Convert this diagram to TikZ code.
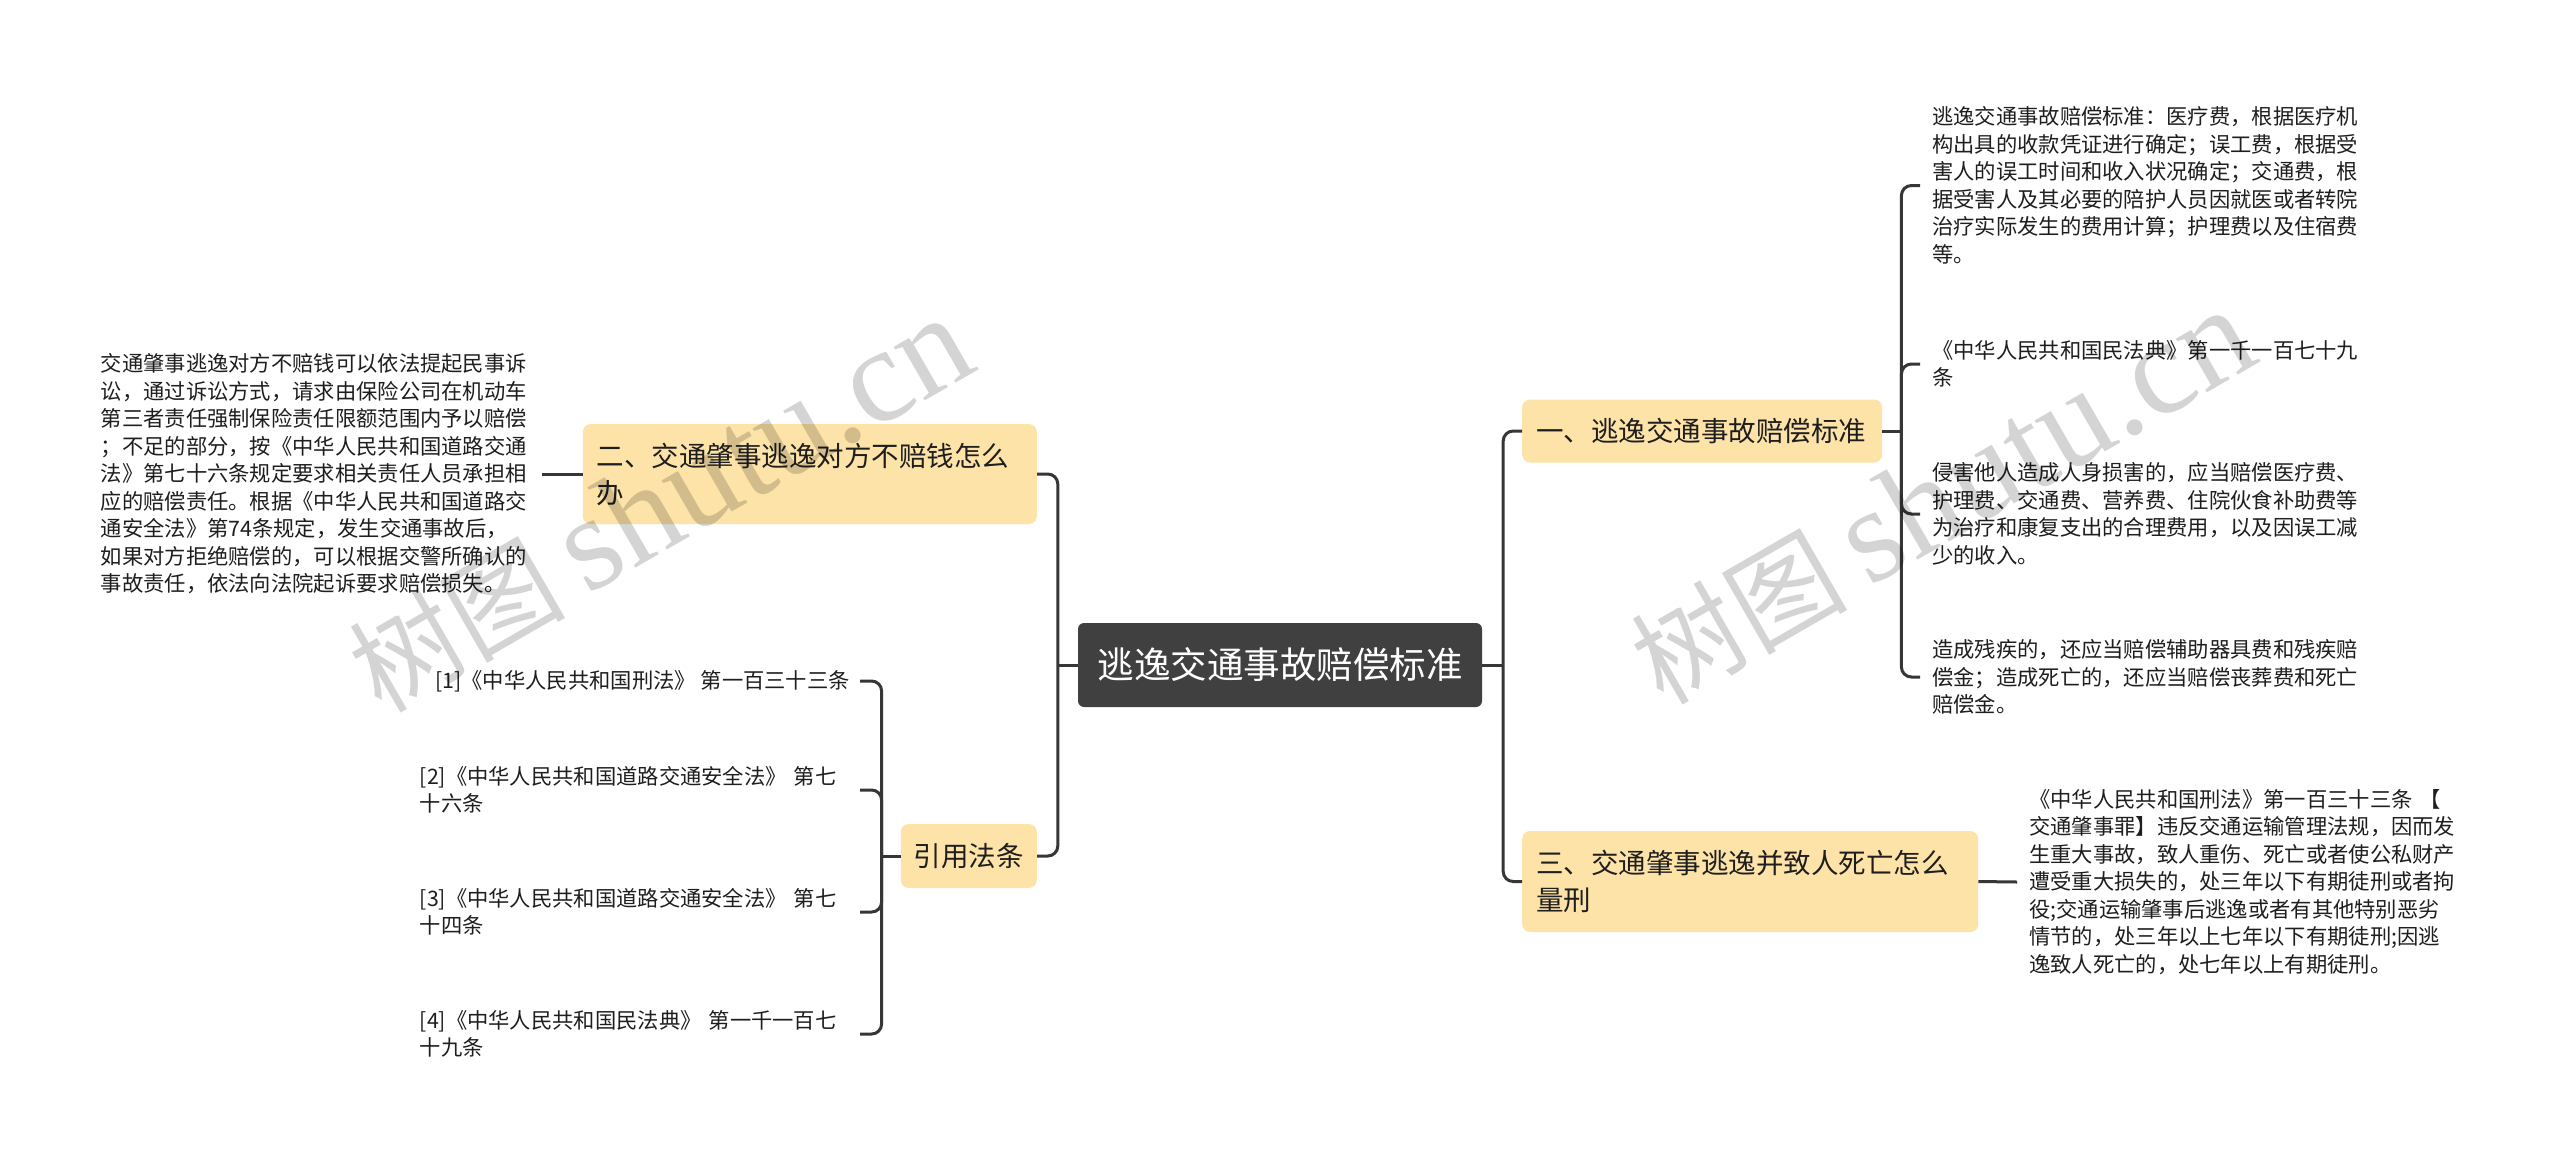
\documentclass[tikz,border=0pt]{standalone}
\usepackage{fontspec}
\setmainfont{Noto Sans CJK SC}
\newfontfamily\wmserif{Liberation Serif}
\newfontfamily\wmcjk{Noto Sans CJK SC}
\definecolor{boxfill}{HTML}{FDE3A8}
\definecolor{rootfill}{HTML}{404040}
\definecolor{linec}{HTML}{363636}
\definecolor{txt}{HTML}{1E1E1E}
\tikzset{
  conn/.style={draw=linec, line width=3pt, rounded corners=10pt},
  rootbox/.style={fill=rootfill, rounded corners=6pt, text=white, font=\fontsize{36.5}{44}\selectfont, minimum width=404pt, minimum height=84pt, inner sep=0pt},
  branchbox/.style={fill=boxfill, rounded corners=8pt, text=txt, font=\fontsize{27.5}{37}\selectfont, align=left, inner xsep=14pt, inner ysep=0pt},
  leaf/.style={text=txt, font=\fontsize{21.3}{27.5}\selectfont, align=left, inner xsep=12pt, inner ysep=0pt},
  wm/.style={text=black, text opacity=0.17, inner sep=0pt},
}
\newcommand{\wmtext}{{\wmcjk\fontsize{108}{108}\selectfont 树图}\hspace{22pt}{\wmserif\fontsize{135}{135}\selectfont shutu.cn}}
\begin{document}
\begin{tikzpicture}[x=1pt,y=-1pt]
\fill[white] (0,0) rectangle (2560,1163);
\useasboundingbox (0,0) rectangle (2560,1163);

% root and main branches
\node[rootbox] (root) at (1280,665) {逃逸交通事故赔偿标准};
\node[branchbox, anchor=west, text width=332pt, minimum height=63pt] (b1) at (1522,431) {一、逃逸交通事故赔偿标准};
\node[branchbox, anchor=west, text width=428pt, minimum height=101pt] (b3) at (1522,881.5) {三、交通肇事逃逸并致人死亡怎么\\量刑};
\node[branchbox, anchor=east, text width=426pt, minimum height=100pt] (b2) at (1037,474) {二、交通肇事逃逸对方不赔钱怎么\\办};
\node[branchbox, anchor=east, align=center, minimum width=136pt, minimum height=64pt, inner xsep=0pt] (cite) at (1037,856) {引用法条};

% right leaves of branch 1
\node[leaf, anchor=west, text width=430pt] (l1) at (1920,185.5) {逃逸交通事故赔偿标准：医疗费，根据医疗机\\构出具的收款凭证进行确定；误工费，根据受\\害人的误工时间和收入状况确定；交通费，根\\据受害人及其必要的陪护人员因就医或者转院\\治疗实际发生的费用计算；护理费以及住宿费\\等。};
\node[leaf, anchor=west, text width=430pt] (l2) at (1920,364) {《中华人民共和国民法典》第一千一百七十九\\条};
\node[leaf, anchor=west, text width=430pt] (l3) at (1920,514) {侵害他人造成人身损害的，应当赔偿医疗费、\\护理费、交通费、营养费、住院伙食补助费等\\为治疗和康复支出的合理费用，以及因误工减\\少的收入。};
\node[leaf, anchor=west, text width=430pt] (l4) at (1920,677) {造成残疾的，还应当赔偿辅助器具费和残疾赔\\偿金；造成死亡的，还应当赔偿丧葬费和死亡\\赔偿金。};

% leaf of branch 3
\node[leaf, anchor=west, text width=432pt] (l5) at (2017,882) {《中华人民共和国刑法》第一百三十三条 【\\交通肇事罪】违反交通运输管理法规，因而发\\生重大事故，致人重伤、死亡或者使公私财产\\遭受重大损失的，处三年以下有期徒刑或者拘\\役;交通运输肇事后逃逸或者有其他特别恶劣\\情节的，处三年以上七年以下有期徒刑;因逃\\逸致人死亡的，处七年以上有期徒刑。};

% leaf of branch 2
\node[leaf, anchor=east, text width=430pt, inner xsep=11pt] (l6) at (542,474) {交通肇事逃逸对方不赔钱可以依法提起民事诉\\讼，通过诉讼方式，请求由保险公司在机动车\\第三者责任强制保险责任限额范围内予以赔偿\\；不足的部分，按《中华人民共和国道路交通\\法》第七十六条规定要求相关责任人员承担相\\应的赔偿责任。根据《中华人民共和国道路交\\通安全法》第74条规定，发生交通事故后，\\如果对方拒绝赔偿的，可以根据交警所确认的\\事故责任，依法向法院起诉要求赔偿损失。};

% citations
\node[leaf, anchor=east, inner xsep=10pt] (c1) at (860,681) {[1]《中华人民共和国刑法》 第一百三十三条};
\node[leaf, anchor=east, inner xsep=10pt, text width=430pt] (c2) at (860,790) {[2]《中华人民共和国道路交通安全法》 第七\\十六条};
\node[leaf, anchor=east, inner xsep=10pt, text width=430pt] (c3) at (860,912) {[3]《中华人民共和国道路交通安全法》 第七\\十四条};
\node[leaf, anchor=east, inner xsep=10pt, text width=430pt] (c4) at (860,1034) {[4]《中华人民共和国民法典》 第一千一百七\\十九条};

% connectors
\draw[conn] (root.east) -- ++(21,0) coordinate (rj);
\draw[conn] (rj) |- (b1.west);
\draw[conn] (rj) |- (b3.west);
\draw[conn] (root.west) -- ++(-20,0) coordinate (lj);
\draw[conn] (lj) |- (b2.east);
\draw[conn] (lj) |- (cite.east);
\draw[conn] (b1.east) -- ++(19,0) coordinate (j1);
\foreach \n in {l1,l2,l3,l4} \draw[conn] (j1) |- (\n.west);
\draw[conn] (b3.east) -- (l5.west);
\draw[conn] (b2.west) -- (l6.east);
\draw[conn] (cite.west) -- ++(-19,0) coordinate (cj);
\foreach \n in {c1,c2,c3,c4} \draw[conn] (cj) |- (\n.east);

% watermarks
\node[wm, rotate=30] (wm1) at (660,505) {\wmtext};
\node[wm, rotate=30] (wm2) at (1942,497) {\wmtext};
\end{tikzpicture}
\end{document}
